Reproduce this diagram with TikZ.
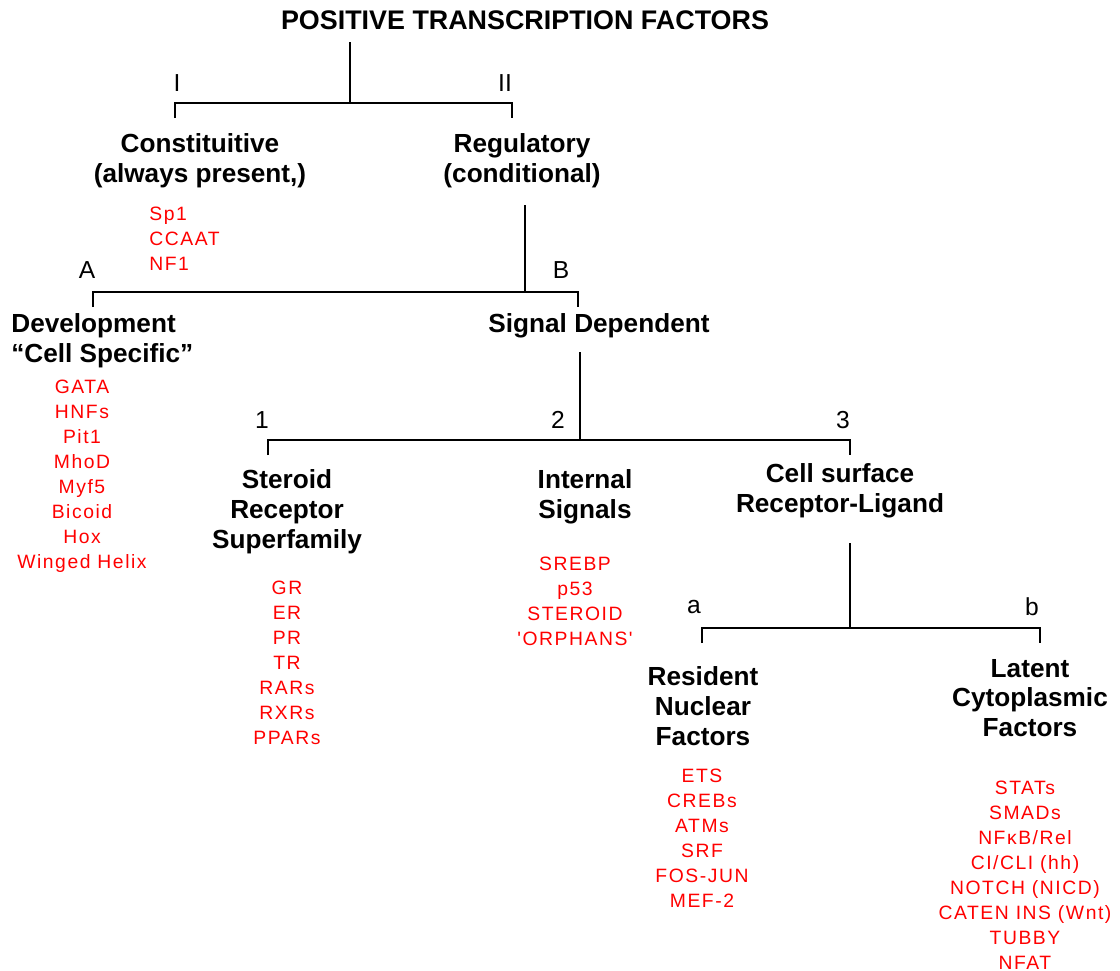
\documentclass[tikz,border=0pt]{standalone}
\usepackage{fontspec}
\setmainfont{Liberation Sans}
\newfontfamily\tflistfont[LetterSpace=8]{Liberation Sans}
\usetikzlibrary{positioning}

\begin{document}
\begin{tikzpicture}[
  x=0.02cm, y=-0.02cm,
  title/.style={inner sep=0pt, font=\bfseries\fontsize{15.3}{18}\selectfont},
  head/.style={inner sep=0pt, align=center, font=\bfseries\fontsize{14.9}{17}\selectfont},
  tflist/.style={inner sep=0pt, align=center, text=red,
                 font=\tflistfont\fontsize{11}{14.2}\selectfont},
  tag/.style={inner sep=0pt, font=\fontsize{14}{17}\selectfont},
  branch/.style={line width=1.1pt},
]
\useasboundingbox (0,0) rectangle (1120,971);

% Title
\node[title] (root) at (525,20) {POSITIVE TRANSCRIPTION FACTORS};

% Level I / II
\node[head] (constit) at (200,161) {Constituitive\\(always present,)};
\node[head] (regul) at (522,161) {Regulatory\\(conditional)};
\node[tflist, align=left, anchor=west] (constitlist) at (149,239)
  {Sp1\\CCAAT\\NF1};
\node[tag] (tagI) at (177,83) {I};
\node[tag] (tagII) at (505,83) {II};

% Level A / B
\node[head, align=left, anchor=west] (devel) at (11,341)
  {Development\\``Cell Specific''};
\node[head] (signal) at (599,326) {Signal Dependent};
\node[tflist] (devellist) at (82,476)
  {GATA\\HNFs\\Pit1\\MhoD\\Myf5\\Bicoid\\Hox\\Winged Helix};
\node[tag] (tagA) at (87,270) {A};
\node[tag] (tagB) at (561,270) {B};

% Level 1 / 2 / 3
\node[head] (steroid) at (287,512) {Steroid\\Receptor\\Superfamily};
\node[head] (internal) at (585,497) {Internal\\Signals};
\node[head] (cellsurf) at (840,491) {Cell surface\\Receptor-Ligand};
\node[tflist] (steroidlist) at (287,663)
  {GR\\ER\\PR\\TR\\RARs\\RXRs\\PPARs};
\node[tflist] (internallist) at (575,601)
  {SREBP\\p53\\STEROID\\\char"27 ORPHANS\char"27};
\node[tag] (tag1) at (262,420) {1};
\node[tag] (tag2) at (558,420) {2};
\node[tag] (tag3) at (843,420) {3};

% Level a / b
\node[head] (resident) at (703,706) {Resident\\Nuclear\\Factors};
\node[head] (latent) at (1030,698) {Latent\\Cytoplasmic\\Factors};
\node[tflist] (residentlist) at (702,838)
  {ETS\\CREBs\\ATMs\\SRF\\FOS-JUN\\MEF-2};
\node[tflist] (latentlist) at (1025,875)
  {STATs\\SMADs\\NFκB/Rel\\CI/CLI (hh)\\NOTCH (NICD)\\CATEN INS (Wnt)\\TUBBY\\NFAT};
\node[tag] (taga) at (694,607) {a};
\node[tag] (tagb) at (1032,607) {b};

% Branch points
\coordinate (stem1) at (350,42);
\coordinate (fork1) at (350,103);
\coordinate (leg1l) at (175,118);
\coordinate (leg1r) at (512,118);

\coordinate (stem2) at (525,205);
\coordinate (fork2) at (525,292);
\coordinate (leg2l) at (93,307);
\coordinate (leg2r) at (578,307);

\coordinate (stem3) at (580,352);
\coordinate (fork3) at (580,440);
\coordinate (leg3l) at (268,455);
\coordinate (leg3r) at (850,455);

\coordinate (stem4) at (850,543);
\coordinate (fork4) at (850,628);
\coordinate (leg4l) at (702,643);
\coordinate (leg4r) at (1040,643);

% Branches
\foreach \i in {1,2,3,4} {
  \draw[branch] (stem\i) -- (fork\i);
  \draw[branch] (leg\i l) |- (fork\i) -| (leg\i r);
}

\end{tikzpicture}
\end{document}
